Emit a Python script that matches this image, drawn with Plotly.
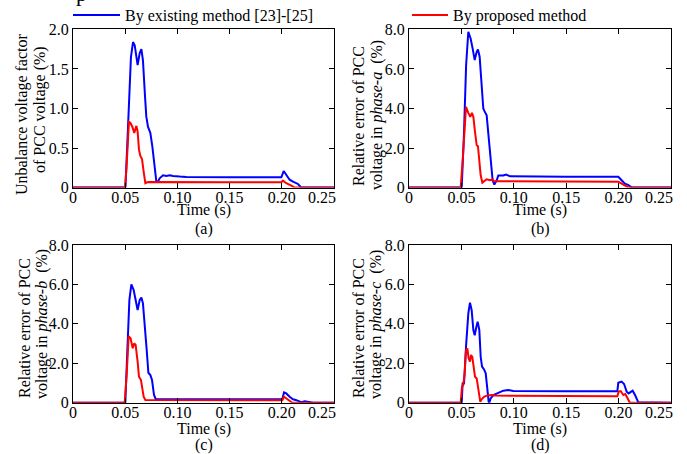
import plotly.graph_objects as go

# ---------------- data ----------------
ta_blue = [0, 0.0502, 0.0520, 0.0540, 0.0555, 0.0575, 0.0591, 0.0619, 0.0639, 0.0655, 0.0670, 0.0690, 0.0702,
           0.0718, 0.0741, 0.0760, 0.0782, 0.0798, 0.0814, 0.0830, 0.0862, 0.0894, 0.0926, 0.0958, 0.1022,
           0.1086, 0.15, 0.1996, 0.2018, 0.2050, 0.2075, 0.2107, 0.2155, 0.2187, 0.25]
va_blue = [0, 0, 0.55, 1.20, 1.65, 1.84, 1.80, 1.55, 1.70, 1.75, 1.61, 1.15, 0.90,
           0.77, 0.69, 0.52, 0.22, 0.08, 0.076, 0.118, 0.156, 0.147, 0.156, 0.147, 0.139,
           0.135, 0.13, 0.13, 0.21, 0.155, 0.10, 0.076, 0.046, 0, 0]
ta_red = [0, 0.0498, 0.0511, 0.0524, 0.0536, 0.0549, 0.0568, 0.0587, 0.0607, 0.0619, 0.0632, 0.0645, 0.0661,
          0.0677, 0.0693, 0.0709, 0.0734, 0.15, 0.1996, 0.2011, 0.2043, 0.2091, 0.2123, 0.25]
va_red = [0, 0, 0.22, 0.64, 0.83, 0.82, 0.77, 0.69, 0.78, 0.71, 0.48, 0.40, 0.36,
          0.20, 0.055, 0.067, 0.07, 0.067, 0.067, 0.088, 0.055, 0.025, 0, 0]

tb_blue = [0, 0.0503, 0.0525, 0.0545, 0.0566, 0.0588, 0.0607, 0.0627, 0.0646, 0.0658, 0.0674, 0.0693, 0.0709,
           0.0719, 0.0741, 0.0757, 0.0779, 0.0798, 0.0814, 0.0837, 0.0852, 0.0900, 0.0926, 0.0964, 0.15,
           0.1997, 0.2029, 0.2060, 0.2090, 0.2115, 0.2128, 0.25]
vb_blue = [0, 0, 2.8, 6.2, 7.88, 7.54, 7.04, 6.45, 6.87, 6.99, 6.62, 5.43, 4.00,
           3.88, 3.66, 2.73, 1.38, 0.37, 0.15, 0.37, 0.61, 0.61, 0.66, 0.57, 0.55,
           0.55, 0.37, 0.20, 0.135, 0.07, 0, 0]
tb_red = [0, 0.0493, 0.0515, 0.0530, 0.0544, 0.0566, 0.0585, 0.0601, 0.0614, 0.0630, 0.0646, 0.0658, 0.0671,
          0.0684, 0.0700, 0.0719, 0.0741, 0.0773, 0.0798, 0.0811, 0.15, 0.1997, 0.2013, 0.2045, 0.2077, 0.2096, 0.25]
vb_red = [0, 0, 1.6, 3.3, 4.08, 3.78, 3.58, 3.78, 3.58, 2.82, 2.14, 2.09, 1.47,
          0.62, 0.25, 0.34, 0.42, 0.37, 0.41, 0.32, 0.30, 0.30, 0.25, 0.15, 0.03, 0, 0]

tc_blue = [0, 0.0501, 0.0520, 0.0540, 0.0559, 0.0581, 0.0600, 0.0619, 0.0639, 0.0655, 0.0670, 0.0690, 0.0706,
           0.0722, 0.0741, 0.0757, 0.0776, 0.0792, 0.15, 0.2005, 0.2021, 0.2043, 0.2075, 0.2107, 0.2133,
           0.2155, 0.2187, 0.2220, 0.2280, 0.2300, 0.25]
vc_blue = [0, 0, 2.6, 5.2, 6.0, 5.72, 5.21, 4.70, 5.21, 5.33, 5.04, 3.86, 2.67,
           1.52, 1.40, 1.15, 0.39, 0.19, 0.17, 0.17, 0.52, 0.47, 0.30, 0.17, 0.14,
           0.10, 0.03, 0.07, 0.02, 0, 0]
tc_red = [0, 0.0495, 0.0515, 0.0533, 0.0552, 0.0572, 0.0587, 0.0600, 0.0619, 0.0632, 0.0651, 0.0664, 0.0677,
          0.0693, 0.15, 0.2005, 0.2021, 0.2043, 0.2075, 0.2100, 0.25]
vc_red = [0, 0, 1.5, 3.38, 3.26, 2.76, 3.01, 2.93, 2.08, 1.32, 1.15, 0.81, 0.30,
          0.135, 0.12, 0.12, 0.30, 0.22, 0.07, 0, 0]

td_blue = [0, 0.0503, 0.0512, 0.0525, 0.0544, 0.0566, 0.0582, 0.0598, 0.0614, 0.0627, 0.0643, 0.0655, 0.0671,
           0.0684, 0.0697, 0.0716, 0.0732, 0.0747, 0.0760, 0.0766, 0.0779, 0.0805, 0.0852, 0.0900, 0.0948,
           0.0996, 0.15, 0.1988, 0.1997, 0.2029, 0.2052, 0.2077, 0.2096, 0.2118, 0.2134, 0.2157, 0.2172,
           0.2188, 0.25]
vd_blue = [0, 0, 1.01, 0.95, 2.84, 4.53, 5.07, 4.70, 3.69, 3.42, 3.86, 4.11, 3.69,
           2.33, 1.83, 1.69, 1.49, 0.56, 0.05, 0, 0.22, 0.39, 0.51, 0.61, 0.64,
           0.59, 0.58, 0.58, 1.01, 1.07, 0.95, 0.56, 0.47, 0.56, 0.61, 0.39, 0.17,
           0.02, 0]
td_red = [0, 0.0493, 0.0506, 0.0518, 0.0531, 0.0544, 0.0557, 0.0569, 0.0582, 0.0592, 0.0604, 0.0617, 0.0630,
          0.0646, 0.0658, 0.0671, 0.0680, 0.0693, 0.0716, 0.0741, 0.0789, 0.0821, 0.15, 0.1988, 0.2001,
          0.2020, 0.2045, 0.2064, 0.2083, 0.2102, 0.2115, 0.25]
vd_red = [0, 0, 0.81, 0.90, 1.49, 2.67, 2.76, 2.25, 2.08, 2.42, 2.33, 1.83, 1.32,
          1.23, 0.81, 0.22, 0.05, 0.17, 0.30, 0.36, 0.39, 0.36, 0.33, 0.33, 0.56,
          0.59, 0.39, 0.44, 0.25, 0.05, 0, 0]

x_tickvals = [0, 0.05, 0.10, 0.15, 0.20, 0.25]
x_ticktext = ["0", "0.05", "0.10", "0.15", "0.20", "0.25" + "&nbsp;" * 6]
ya_tickvals = [0, 0.5, 1.0, 1.5, 2.0]
ya_ticktext = ["0", "0.5", "1.0", "1.5", "2.0"]
y8_tickvals = [0, 2, 4, 6, 8]
y8_ticktext = ["0", "2.0", "4.0", "6.0", "8.0"]

legend_names = ["By existing method [23]-[25]", "By proposed method"]
panel_labels = ["(a)", "(b)", "(c)", "(d)"]
y_title_lines = [("Unbalance voltage factor", "of PCC voltage (%)"),
                 ("Relative error of PCC", "voltage in <i>phase-a</i>  (%)"),
                 ("Relative error of PCC", "voltage in <i>phase-b</i>  (%)"),
                 ("Relative error of PCC", "voltage in <i>phase-c</i>  (%)")]

# ---------------- styling ----------------
W, H = 687, 454
FONT = "Liberation Serif, Times New Roman, serif"
BLUE = "#0000FF"
RED = "#FF0000"

def px(x):
    return x / W

def py(y):
    return 1 - y / H

xdom_l = [px(73), px(334)]
xdom_r = [px(409), px(671)]
ydom_t = [py(187.6), py(29.4)]
ydom_b = [py(402.7), py(245)]

fig = go.Figure()

panels = [
    (ta_blue, va_blue, ta_red, va_red, "x", "y"),
    (tb_blue, vb_blue, tb_red, vb_red, "x2", "y2"),
    (tc_blue, vc_blue, tc_red, vc_red, "x3", "y3"),
    (td_blue, vd_blue, td_red, vd_red, "x4", "y4"),
]
for i, (tb_, vb_, tr_, vr_, xa, ya) in enumerate(panels):
    fig.add_trace(go.Scatter(x=tb_, y=vb_, mode="lines", line=dict(color=BLUE, width=2),
                             name=legend_names[0], xaxis=xa, yaxis=ya,
                             showlegend=(i == 0), legend="legend"))
    fig.add_trace(go.Scatter(x=tr_, y=vr_, mode="lines", line=dict(color=RED, width=2),
                             name=legend_names[1], xaxis=xa, yaxis=ya,
                             showlegend=(i == 0), legend="legend2"))

axis_common = dict(showline=True, linecolor="black", linewidth=1, mirror="ticks",
                   ticks="inside", ticklen=5, tickcolor="black", tickwidth=1,
                   showgrid=False, zeroline=False, automargin=False,
                   ticklabeloverflow="allow",
                   tickfont=dict(family=FONT, size=16, color="black"))

doms = [(xdom_l, ydom_t), (xdom_r, ydom_t), (xdom_l, ydom_b), (xdom_r, ydom_b)]
for i, (xd, yd) in enumerate(doms):
    sx = "" if i == 0 else str(i + 1)
    fig.layout["xaxis" + sx] = dict(axis_common, domain=xd, range=[0, 0.25],
                                    tickvals=x_tickvals, ticktext=x_ticktext,
                                    ticklabelstandoff=-5, anchor="y" + sx)
    if i == 0:
        yv = dict(range=[0, 2.0], tickvals=ya_tickvals, ticktext=ya_ticktext)
    else:
        yv = dict(range=[0, 8.0], tickvals=y8_tickvals, ticktext=y8_ticktext)
    fig.layout["yaxis" + sx] = dict(axis_common, domain=yd, anchor="x" + sx, **yv)

annots = []
# y titles: one annotation per line
ytitle_pos = [((22, 115), (40, 110)), ((358, 116), (377, 115)),
              ((24, 328), (42, 324)), ((358, 328), (376, 325))]
for lines, poss in zip(y_title_lines, ytitle_pos):
    for t, (x, y) in zip(lines, poss):
        annots.append(dict(text=t, x=px(x), y=py(y), xref="paper", yref="paper",
                           xanchor="center", yanchor="middle", showarrow=False, textangle=-90,
                           font=dict(family=FONT, size=16, color="black")))
# x titles and panel labels
xt_pos = [(204, 210), (540, 210), (204, 429), (540, 429)]
lab_pos = [(204, 229), (540, 229), (204, 445), (540, 445)]
for (x, y) in xt_pos:
    annots.append(dict(text="Time (s)", x=px(x), y=py(y), xref="paper", yref="paper",
                       xanchor="center", yanchor="middle", showarrow=False,
                       font=dict(family=FONT, size=16, color="black")))
for (x, y), t in zip(lab_pos, panel_labels):
    annots.append(dict(text=t, x=px(x), y=py(y), xref="paper", yref="paper",
                       xanchor="center", yanchor="middle", showarrow=False,
                       font=dict(family=FONT, size=16, color="black")))
# clipped glyph at top left (from surrounding page text)
annots.append(dict(text="p", x=px(81), y=py(-6), xref="paper", yref="paper",
                   xanchor="center", yanchor="middle", showarrow=False,
                   font=dict(family=FONT, size=22, color="black")))

leg_common = dict(orientation="h", xanchor="left", yanchor="top", bgcolor="rgba(0,0,0,0)",
                  borderwidth=0, font=dict(family=FONT, size=16, color="black"))
fig.update_layout(
    width=W, height=H,
    margin=dict(l=0, r=0, t=0, b=0, autoexpand=False),
    paper_bgcolor="white", plot_bgcolor="white",
    annotations=annots,
    legend=dict(leg_common, x=px(68), y=py(-2), itemwidth=47),
    legend2=dict(leg_common, x=px(407), y=py(-2), itemwidth=36),
)

fig.write_html("out.html", config={"displayModeBar": False},
               post_script="document.body.style.margin='0px';document.body.style.padding='0px';")
